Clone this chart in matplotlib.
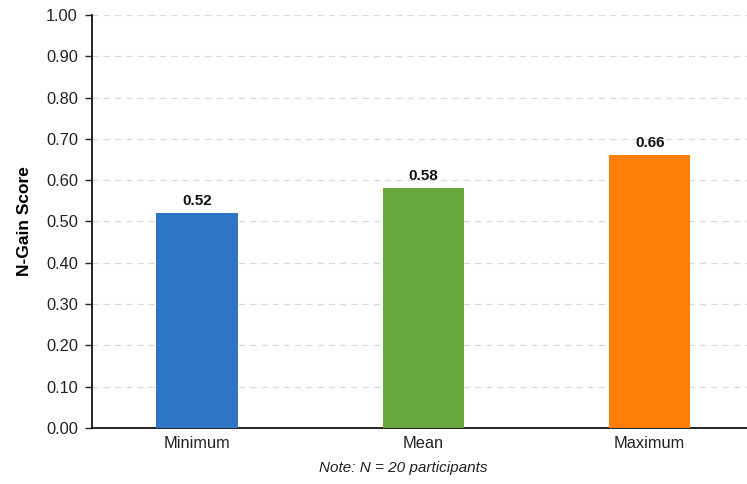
import matplotlib
matplotlib.use("Agg")
import matplotlib.pyplot as plt

plt.rcParams['font.family'] = ['Liberation Sans', 'DejaVu Sans']

categories = ['Minimum', 'Mean', 'Maximum']
scores = [0.52, 0.58, 0.66]
colors = ['#2E75C6', '#67A83F', '#FF7F0A']

fig = plt.figure(figsize=(7.47, 4.84), dpi=100)
ax = fig.add_axes([0.123, 0.116, 0.877, 0.853])

x = range(len(categories))
ax.bar(x, scores, width=0.36, color=colors, zorder=3)

# value labels above each bar
for i, v in enumerate(scores):
    ax.text(i, v + 0.012, f"{v:.2f}", ha='center', va='bottom',
            fontsize=11, fontweight='bold', color='#111111')

ax.set_xlim(-0.465, 2.43)
ax.set_ylim(0, 1.0)
ax.set_yticks([i / 10 for i in range(11)])
ax.set_yticklabels([f"{i / 10:.2f}" for i in range(11)])
ax.set_xticks(list(x))
ax.set_xticklabels(categories)

ax.tick_params(axis='y', length=5, width=1, labelsize=11.8, colors='#222222', pad=5)
ax.tick_params(axis='x', length=0, labelsize=11.8, colors='#222222', pad=6)

ax.yaxis.grid(True, linestyle=(0, (5, 4)), color='#dadada', linewidth=0.9, zorder=0)
ax.spines['top'].set_visible(False)
ax.spines['right'].set_visible(False)
ax.spines['left'].set_linewidth(1.2)
ax.spines['bottom'].set_linewidth(1.2)

ax.set_ylabel('N-Gain Score', fontsize=12.5, fontweight='bold', labelpad=10)

fig.text(0.54, 0.018, 'Note: N = 20 participants', ha='center', va='bottom',
         fontsize=11, style='italic', color='#222222')

fig.savefig('out.png', dpi=100, facecolor='white')
